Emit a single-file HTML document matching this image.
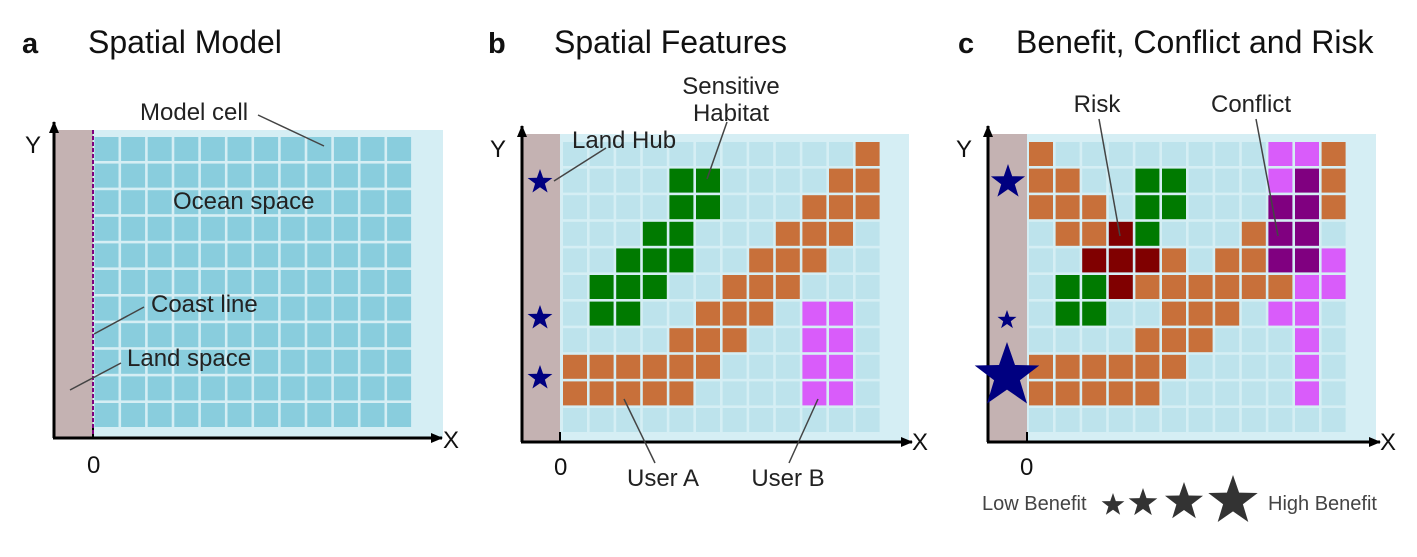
<!DOCTYPE html>
<html><head><meta charset="utf-8"><style>
html,body{margin:0;padding:0;background:#fff;}
svg{display:block;font-family:"Liberation Sans",Arial,sans-serif;}
</style></head><body>
<svg id="s" width="1417" height="557" viewBox="0 0 1417 557" xmlns="http://www.w3.org/2000/svg">
<defs>
<marker id="ar" markerWidth="12" markerHeight="10" refX="11" refY="5" orient="auto" markerUnits="userSpaceOnUse"><path d="M0,0 L12,5 L0,10 Z" fill="#000"/></marker>
</defs>
<g font-size="32" fill="#111">
<text x="22" y="53" font-weight="bold" font-size="29">a</text><text x="88" y="53">Spatial Model</text>
<text x="488" y="53" font-weight="bold" font-size="29">b</text><text x="554" y="53">Spatial Features</text>
<text x="958" y="53" font-weight="bold" font-size="29">c</text><text x="1016" y="53">Benefit, Conflict and Risk</text>
</g>
<g id="grids"></g>
<g font-size="24" fill="#222">
<text x="140" y="120">Model cell</text>
<text x="173" y="209">Ocean space</text>
<text x="151" y="312">Coast line</text>
<text x="127" y="366">Land space</text>
<text x="731" y="94" text-anchor="middle">Sensitive</text>
<text x="731" y="121" text-anchor="middle">Habitat</text>
<text x="572" y="148">Land Hub</text>
<text x="663" y="486" text-anchor="middle">User A</text>
<text x="788" y="486" text-anchor="middle">User B</text>
<text x="1097" y="112" text-anchor="middle">Risk</text>
<text x="1251" y="112" text-anchor="middle">Conflict</text>
</g>
<g font-size="24" fill="#111">
<text x="25" y="153">Y</text><text x="443" y="448">X</text><text x="87" y="473">0</text>
<text x="490" y="157">Y</text><text x="912" y="450">X</text><text x="554" y="475">0</text>
<text x="956" y="157">Y</text><text x="1380" y="450">X</text><text x="1020" y="475">0</text>
</g>
<g stroke="#444" stroke-width="1.5">
<line x1="258" y1="115" x2="324" y2="146"/>
<line x1="144" y1="307" x2="94" y2="334"/>
<line x1="121" y1="363" x2="70" y2="390"/>
<line x1="727" y1="122" x2="707" y2="179"/>
<line x1="606" y1="148" x2="554" y2="181"/>
<line x1="655" y1="463" x2="624" y2="399"/>
<line x1="789" y1="463" x2="818" y2="399"/>
<line x1="1099" y1="119" x2="1120" y2="236"/>
<line x1="1256" y1="119" x2="1278" y2="236"/>
</g>
<g font-size="20" fill="#444">
<text x="982" y="510">Low Benefit</text>
<text x="1268" y="510">High Benefit</text>
</g>
<g id="legend" fill="#333"></g>
</svg>
<script>
var NS="http://www.w3.org/2000/svg";
var G=document.getElementById("grids");
function el(t,a,p){var e=document.createElementNS(NS,t);for(var k in a)e.setAttribute(k,a[k]);(p||G).appendChild(e);return e;}
function star(cx,cy,r,fill,p){var pts=[];for(var i=0;i<10;i++){var rr=i%2?r*0.4:r;var a=-Math.PI/2+i*Math.PI/5;pts.push((cx+rr*Math.cos(a)).toFixed(1)+","+(cy+rr*Math.sin(a)).toFixed(1));}el("polygon",{points:pts.join(" "),fill:fill},p);}
var C={o:"#c8703a",g:"#007a00",p:"#d95cfa",u:"#800080",r:"#800000"};
function panel(o){
 el("rect",{x:o.bx,y:o.top,width:o.bw,height:o.axy-o.top,fill:"#d5eef4"});
 el("rect",{x:o.ax,y:o.top,width:o.bx-o.ax,height:o.axy-o.top,fill:"#c4b2b2"});
 var pitch=26.6;
 for(var r=0;r<11;r++)for(var c=0;c<12;c++){
   var col=o.base; if(o.map){var ch=o.map[r][c]; if(ch!=".")col=C[ch];}
   el("rect",{x:o.gx+c*pitch,y:o.gy+r*pitch,width:24,height:24,fill:col});
 }
 el("line",{x1:o.ax,y1:o.axy,x2:o.ax,y2:o.top-8,stroke:"#000","stroke-width":3,"marker-end":"url(#ar)"});
 el("line",{x1:o.ax-1,y1:o.axy,x2:o.axEnd,y2:o.axy,stroke:"#000","stroke-width":3,"marker-end":"url(#ar)"});
 el("line",{x1:o.bx,y1:o.axy,x2:o.bx,y2:o.axy-10,stroke:"#000","stroke-width":2});
}
panel({ax:54,axy:438,top:130,bx:93,bw:350,gx:94.5,gy:137,base:"#89cddd",axEnd:442});
el("line",{x1:93,y1:130,x2:93,y2:436,stroke:"#800080","stroke-width":2,"stroke-dasharray":"4,2"});
var mb=[
"...........o",
"....gg....oo",
"....gg...ooo",
"...gg...ooo.",
"..ggg..ooo..",
".ggg..ooo...",
".gg..ooo.pp.",
"....ooo..pp.",
"oooooo...pp.",
"ooooo....pp.",
"............"];
panel({ax:522,axy:442,top:134,bx:560,bw:349,gx:563,gy:142,base:"#bde3ec",map:mb,axEnd:912});
star(540,182,13,"#000080");star(540,318,13,"#000080");star(540,378,13,"#000080");
var mc=[
"o........ppo",
"oo..gg...puo",
"ooo.gg...uuo",
".oorg...ouu.",
"..rrro.oouup",
".ggroooooopp",
".gg..ooo.pp.",
"....ooo...p.",
"oooooo....p.",
"ooooo.....p.",
"............"];
panel({ax:988,axy:442,top:134,bx:1027,bw:349,gx:1029,gy:142,base:"#bde3ec",map:mc,axEnd:1380});
star(1008,182,18,"#000080");star(1007,320,10,"#000080");star(1007,376,34,"#000080");
var L=document.getElementById("legend");
star(1113,505,12,"#333",L);star(1143,503,15,"#333",L);star(1184,502,20,"#333",L);star(1233,501,26,"#333",L);
</script>
</body></html>
